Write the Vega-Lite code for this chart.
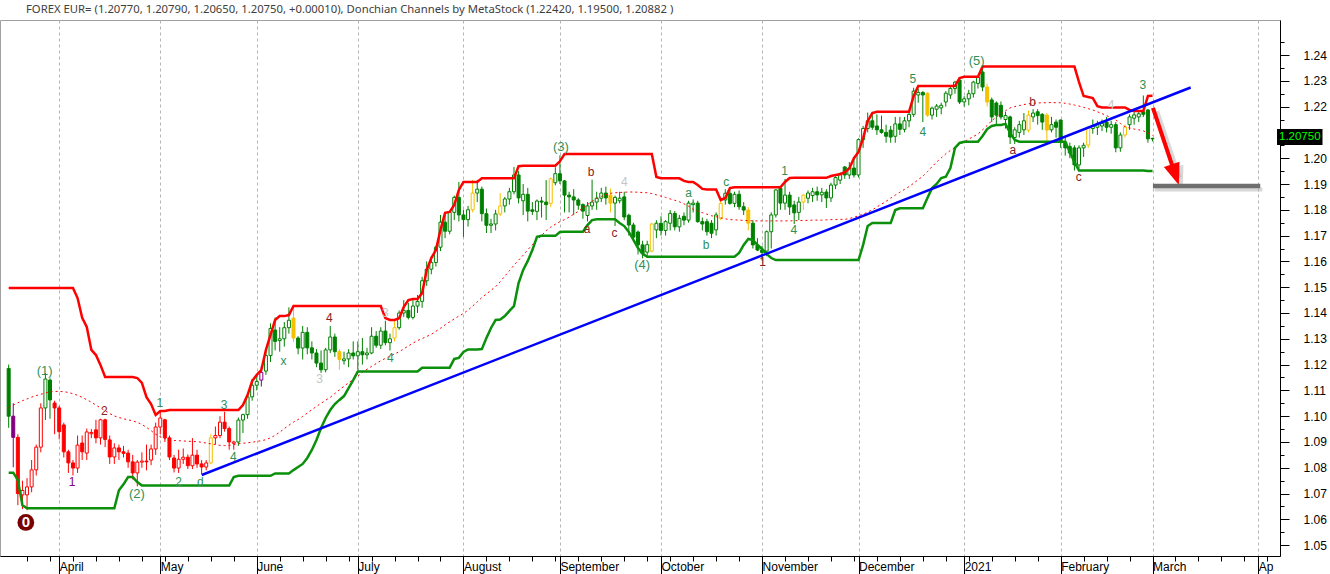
{
"$schema": "https://vega.github.io/schema/vega-lite/v6.json",
"width": 1280,
"height": 536,
"autosize": {"type": "none"},
"padding": {"left": 0, "top": 20, "right": 50, "bottom": 18},
"background": "white",
"title": {"text": "FOREX EUR= (1.20770, 1.20790, 1.20650, 1.20750, +0.00010), Donchian Channels by MetaStock (1.22420, 1.19500, 1.20882 )", "anchor": "start", "frame": "group", "dx": 26, "offset": 5, "font": "Noto Sans", "fontSize": 11.3, "fontWeight": "normal", "color": "#404040"},
"config": {"view": {"stroke": "#a0a0a0"}, "font": "Liberation Sans"},
"resolve": {"scale": {"color": "independent"}, "axis": {"x": "independent", "y": "independent"}},
"datasets": {
"candles": [
{"i":0,"o":1.1185,"h":1.12,"l":1.0955,"c":1.1,"k":"g","u":1.1497,"d":1.0781,"m":1.1033},
{"i":1,"o":1.1,"h":1.105,"l":1.0802,"c":1.0918,"k":"p","u":1.1497,"d":1.0781,"m":1.1043},
{"i":2,"o":1.0918,"h":1.093,"l":1.0655,"c":1.07,"k":"r","u":1.1497,"d":1.0752,"m":1.1052},
{"i":3,"o":1.0695,"h":1.075,"l":1.064,"c":1.0712,"k":"r","u":1.1497,"d":1.0655,"m":1.106},
{"i":4,"o":1.0695,"h":1.076,"l":1.0636,"c":1.0726,"k":"r","u":1.1497,"d":1.0643,"m":1.1067},
{"i":5,"o":1.0726,"h":1.083,"l":1.0705,"c":1.0792,"k":"r","u":1.1497,"d":1.0643,"m":1.1074},
{"i":6,"o":1.0792,"h":1.089,"l":1.077,"c":1.088,"k":"r","u":1.1497,"d":1.0643,"m":1.108},
{"i":7,"o":1.088,"h":1.105,"l":1.086,"c":1.1032,"k":"r","u":1.1497,"d":1.0643,"m":1.1085},
{"i":8,"o":1.1032,"h":1.1167,"l":1.0985,"c":1.1144,"k":"g","u":1.1497,"d":1.0643,"m":1.109},
{"i":9,"o":1.114,"h":1.1147,"l":1.099,"c":1.1063,"k":"g","u":1.1497,"d":1.0643,"m":1.1094},
{"i":10,"o":1.1051,"h":1.106,"l":1.093,"c":1.1032,"k":"r","u":1.1497,"d":1.0643,"m":1.1096},
{"i":11,"o":1.1032,"h":1.104,"l":1.091,"c":1.094,"k":"r","u":1.1497,"d":1.0643,"m":1.1096},
{"i":12,"o":1.0966,"h":1.0975,"l":1.084,"c":1.0862,"k":"r","u":1.1497,"d":1.0643,"m":1.1095},
{"i":13,"o":1.0862,"h":1.087,"l":1.078,"c":1.0819,"k":"r","u":1.1497,"d":1.0643,"m":1.1092},
{"i":14,"o":1.0819,"h":1.083,"l":1.077,"c":1.0799,"k":"r","u":1.1497,"d":1.0643,"m":1.1087},
{"i":15,"o":1.0799,"h":1.0925,"l":1.078,"c":1.0888,"k":"r","u":1.1458,"d":1.0643,"m":1.1081},
{"i":16,"o":1.0896,"h":1.0925,"l":1.083,"c":1.0862,"k":"r","u":1.1381,"d":1.0643,"m":1.1073},
{"i":17,"o":1.0857,"h":1.0952,"l":1.083,"c":1.0939,"k":"r","u":1.1346,"d":1.0643,"m":1.1064},
{"i":18,"o":1.0932,"h":1.095,"l":1.0915,"c":1.0937,"k":"r","u":1.1257,"d":1.0643,"m":1.1054},
{"i":19,"o":1.0947,"h":1.0986,"l":1.0895,"c":1.0916,"k":"r","u":1.1237,"d":1.0643,"m":1.1043},
{"i":20,"o":1.0916,"h":1.099,"l":1.089,"c":1.0986,"k":"r","u":1.1198,"d":1.0643,"m":1.1032},
{"i":21,"o":1.0986,"h":1.099,"l":1.088,"c":1.091,"k":"r","u":1.1152,"d":1.0643,"m":1.1021},
{"i":22,"o":1.0908,"h":1.0925,"l":1.0815,"c":1.0842,"k":"r","u":1.1152,"d":1.0643,"m":1.101},
{"i":23,"o":1.0842,"h":1.0895,"l":1.0815,"c":1.0877,"k":"r","u":1.1152,"d":1.0643,"m":1.1001},
{"i":24,"o":1.0877,"h":1.089,"l":1.083,"c":1.0862,"k":"r","u":1.1152,"d":1.0713,"m":1.0995},
{"i":25,"o":1.0862,"h":1.0885,"l":1.084,"c":1.0856,"k":"r","u":1.1152,"d":1.0736,"m":1.099},
{"i":26,"o":1.0857,"h":1.087,"l":1.08,"c":1.0823,"k":"r","u":1.1152,"d":1.0764,"m":1.0986},
{"i":27,"o":1.0823,"h":1.085,"l":1.0755,"c":1.078,"k":"r","u":1.1152,"d":1.0764,"m":1.0982},
{"i":28,"o":1.078,"h":1.083,"l":1.0728,"c":1.0822,"k":"r","u":1.1148,"d":1.0745,"m":1.0976},
{"i":29,"o":1.0822,"h":1.086,"l":1.08,"c":1.0826,"k":"r","u":1.1129,"d":1.0731,"m":1.0968},
{"i":30,"o":1.0826,"h":1.089,"l":1.079,"c":1.0823,"k":"r","u":1.1074,"d":1.0731,"m":1.0957},
{"i":31,"o":1.083,"h":1.089,"l":1.081,"c":1.0873,"k":"r","u":1.1047,"d":1.0731,"m":1.0944},
{"i":32,"o":1.0873,"h":1.0975,"l":1.085,"c":1.0958,"k":"r","u":1.1005,"d":1.0731,"m":1.093},
{"i":33,"o":1.0958,"h":1.102,"l":1.093,"c":1.0993,"k":"r","u":1.102,"d":1.0731,"m":1.092},
{"i":34,"o":1.0986,"h":1.099,"l":1.09,"c":1.0916,"k":"r","u":1.102,"d":1.0731,"m":1.0913},
{"i":35,"o":1.0916,"h":1.0925,"l":1.083,"c":1.0842,"k":"r","u":1.1024,"d":1.0731,"m":1.0909},
{"i":36,"o":1.0838,"h":1.085,"l":1.0782,"c":1.0799,"k":"r","u":1.1024,"d":1.0731,"m":1.0906},
{"i":37,"o":1.0799,"h":1.087,"l":1.078,"c":1.0833,"k":"r","u":1.1024,"d":1.0731,"m":1.0905},
{"i":38,"o":1.0833,"h":1.0875,"l":1.0815,"c":1.0841,"k":"r","u":1.1024,"d":1.0731,"m":1.0904},
{"i":39,"o":1.0841,"h":1.0852,"l":1.0795,"c":1.0808,"k":"r","u":1.1024,"d":1.0731,"m":1.0903},
{"i":40,"o":1.0808,"h":1.0915,"l":1.0795,"c":1.0849,"k":"r","u":1.1024,"d":1.0731,"m":1.0902},
{"i":41,"o":1.0849,"h":1.087,"l":1.08,"c":1.0815,"k":"r","u":1.1024,"d":1.0731,"m":1.0901},
{"i":42,"o":1.0815,"h":1.083,"l":1.0775,"c":1.0803,"k":"r","u":1.1024,"d":1.0731,"m":1.0899},
{"i":43,"o":1.0803,"h":1.083,"l":1.079,"c":1.0819,"k":"r","u":1.1024,"d":1.0731,"m":1.0896},
{"i":44,"o":1.0819,"h":1.093,"l":1.0815,"c":1.0916,"k":"y","u":1.1024,"d":1.0731,"m":1.0893},
{"i":45,"o":1.0916,"h":1.096,"l":1.089,"c":1.0925,"k":"r","u":1.1024,"d":1.0731,"m":1.089},
{"i":46,"o":1.0925,"h":1.1,"l":1.0915,"c":1.0977,"k":"r","u":1.1024,"d":1.0731,"m":1.0887},
{"i":47,"o":1.0977,"h":1.1017,"l":1.094,"c":1.0952,"k":"r","u":1.1024,"d":1.0731,"m":1.0886},
{"i":48,"o":1.0952,"h":1.096,"l":1.087,"c":1.09,"k":"r","u":1.1024,"d":1.0731,"m":1.0887},
{"i":49,"o":1.0895,"h":1.0905,"l":1.087,"c":1.09,"k":"r","u":1.1024,"d":1.0764,"m":1.089},
{"i":50,"o":1.09,"h":1.0995,"l":1.0885,"c":1.0985,"k":"g","u":1.1024,"d":1.0769,"m":1.0893},
{"i":51,"o":1.0985,"h":1.101,"l":1.0935,"c":1.1006,"k":"g","u":1.1043,"d":1.0769,"m":1.0895},
{"i":52,"o":1.1006,"h":1.109,"l":1.099,"c":1.1075,"k":"g","u":1.1082,"d":1.0769,"m":1.0897},
{"i":53,"o":1.1075,"h":1.1145,"l":1.106,"c":1.112,"k":"g","u":1.1136,"d":1.0769,"m":1.0899},
{"i":54,"o":1.112,"h":1.1155,"l":1.11,"c":1.1135,"k":"g","u":1.116,"d":1.0769,"m":1.0902},
{"i":55,"o":1.114,"h":1.1195,"l":1.1115,"c":1.117,"k":"p","u":1.1179,"d":1.0769,"m":1.0905},
{"i":56,"o":1.1175,"h":1.1257,"l":1.116,"c":1.1235,"k":"g","u":1.1257,"d":1.0769,"m":1.0909},
{"i":57,"o":1.1235,"h":1.136,"l":1.121,"c":1.134,"k":"g","u":1.1315,"d":1.0769,"m":1.0916},
{"i":58,"o":1.1334,"h":1.1383,"l":1.1255,"c":1.129,"k":"g","u":1.1373,"d":1.0778,"m":1.0926},
{"i":59,"o":1.1293,"h":1.1345,"l":1.125,"c":1.13,"k":"g","u":1.1388,"d":1.0778,"m":1.0938},
{"i":60,"o":1.13,"h":1.1365,"l":1.127,"c":1.1343,"k":"g","u":1.1388,"d":1.0778,"m":1.0952},
{"i":61,"o":1.1343,"h":1.1422,"l":1.132,"c":1.1372,"k":"g","u":1.1392,"d":1.0778,"m":1.0965},
{"i":62,"o":1.138,"h":1.1422,"l":1.1288,"c":1.1303,"k":"y","u":1.1427,"d":1.0791,"m":1.0977},
{"i":63,"o":1.1303,"h":1.131,"l":1.124,"c":1.1264,"k":"g","u":1.1427,"d":1.0803,"m":1.0987},
{"i":64,"o":1.1264,"h":1.135,"l":1.122,"c":1.1325,"k":"g","u":1.1427,"d":1.0815,"m":1.0999},
{"i":65,"o":1.1325,"h":1.1345,"l":1.124,"c":1.1265,"k":"g","u":1.1427,"d":1.0838,"m":1.1012},
{"i":66,"o":1.1265,"h":1.129,"l":1.122,"c":1.1245,"k":"g","u":1.1427,"d":1.0869,"m":1.1025},
{"i":67,"o":1.1245,"h":1.126,"l":1.119,"c":1.1206,"k":"g","u":1.1427,"d":1.0908,"m":1.1038},
{"i":68,"o":1.1206,"h":1.1255,"l":1.1168,"c":1.118,"k":"g","u":1.1427,"d":1.0954,"m":1.105},
{"i":69,"o":1.118,"h":1.1265,"l":1.117,"c":1.1257,"k":"g","u":1.1427,"d":1.0993,"m":1.1062},
{"i":70,"o":1.1257,"h":1.135,"l":1.1245,"c":1.1307,"k":"g","u":1.1427,"d":1.1024,"m":1.1073},
{"i":71,"o":1.1307,"h":1.132,"l":1.123,"c":1.125,"k":"g","u":1.1427,"d":1.1047,"m":1.1088},
{"i":72,"o":1.125,"h":1.126,"l":1.118,"c":1.122,"k":"y","u":1.1427,"d":1.1063,"m":1.1102},
{"i":73,"o":1.1215,"h":1.125,"l":1.12,"c":1.1222,"k":"g","u":1.1427,"d":1.1078,"m":1.1116},
{"i":74,"o":1.1222,"h":1.126,"l":1.119,"c":1.1245,"k":"g","u":1.1427,"d":1.1109,"m":1.113},
{"i":75,"o":1.1245,"h":1.129,"l":1.122,"c":1.1234,"k":"g","u":1.1427,"d":1.114,"m":1.1142},
{"i":76,"o":1.1234,"h":1.129,"l":1.118,"c":1.125,"k":"g","u":1.1427,"d":1.1173,"m":1.1155},
{"i":77,"o":1.125,"h":1.1303,"l":1.12,"c":1.1238,"k":"g","u":1.1427,"d":1.1173,"m":1.117},
{"i":78,"o":1.1238,"h":1.1265,"l":1.122,"c":1.1245,"k":"g","u":1.1427,"d":1.1173,"m":1.1182},
{"i":79,"o":1.1245,"h":1.1345,"l":1.124,"c":1.131,"k":"g","u":1.1427,"d":1.1173,"m":1.1193},
{"i":80,"o":1.131,"h":1.133,"l":1.1265,"c":1.1275,"k":"g","u":1.1427,"d":1.1173,"m":1.1204},
{"i":81,"o":1.1275,"h":1.1345,"l":1.126,"c":1.133,"k":"g","u":1.1427,"d":1.1173,"m":1.1215},
{"i":82,"o":1.133,"h":1.137,"l":1.1275,"c":1.1285,"k":"g","u":1.138,"d":1.1173,"m":1.1224},
{"i":83,"o":1.1285,"h":1.132,"l":1.1255,"c":1.13,"k":"g","u":1.1373,"d":1.1173,"m":1.1232},
{"i":84,"o":1.1303,"h":1.1375,"l":1.129,"c":1.1343,"k":"y","u":1.1373,"d":1.1173,"m":1.1241},
{"i":85,"o":1.1343,"h":1.141,"l":1.1335,"c":1.14,"k":"g","u":1.138,"d":1.1173,"m":1.125},
{"i":86,"o":1.14,"h":1.145,"l":1.1385,"c":1.141,"k":"g","u":1.1423,"d":1.1173,"m":1.1261},
{"i":87,"o":1.141,"h":1.144,"l":1.1375,"c":1.1383,"k":"g","u":1.145,"d":1.1173,"m":1.1272},
{"i":88,"o":1.1383,"h":1.145,"l":1.1375,"c":1.1427,"k":"g","u":1.1454,"d":1.1173,"m":1.1283},
{"i":89,"o":1.1427,"h":1.147,"l":1.14,"c":1.1445,"k":"g","u":1.1454,"d":1.1173,"m":1.1293},
{"i":90,"o":1.1445,"h":1.154,"l":1.142,"c":1.1525,"k":"g","u":1.1477,"d":1.1188,"m":1.1301},
{"i":91,"o":1.1525,"h":1.16,"l":1.1505,"c":1.157,"k":"g","u":1.1566,"d":1.1188,"m":1.1309},
{"i":92,"o":1.157,"h":1.162,"l":1.155,"c":1.1596,"k":"g","u":1.1613,"d":1.1188,"m":1.1317},
{"i":93,"o":1.1596,"h":1.166,"l":1.158,"c":1.1655,"k":"g","u":1.1644,"d":1.1188,"m":1.1329},
{"i":94,"o":1.1655,"h":1.178,"l":1.164,"c":1.1752,"k":"g","u":1.1722,"d":1.1188,"m":1.1341},
{"i":95,"o":1.1752,"h":1.178,"l":1.169,"c":1.1717,"k":"g","u":1.1788,"d":1.1188,"m":1.1354},
{"i":96,"o":1.1717,"h":1.179,"l":1.1705,"c":1.179,"k":"g","u":1.1792,"d":1.1188,"m":1.1366},
{"i":97,"o":1.179,"h":1.1855,"l":1.176,"c":1.1848,"k":"g","u":1.1819,"d":1.1222,"m":1.1377},
{"i":98,"o":1.1848,"h":1.1908,"l":1.1755,"c":1.178,"k":"g","u":1.1877,"d":1.1226,"m":1.1388},
{"i":99,"o":1.178,"h":1.18,"l":1.1695,"c":1.1762,"k":"g","u":1.1908,"d":1.1249,"m":1.1398},
{"i":100,"o":1.1762,"h":1.1815,"l":1.1735,"c":1.18,"k":"g","u":1.1908,"d":1.1259,"m":1.1411},
{"i":101,"o":1.18,"h":1.1916,"l":1.179,"c":1.1865,"k":"y","u":1.1908,"d":1.1259,"m":1.1427},
{"i":102,"o":1.1865,"h":1.1916,"l":1.183,"c":1.188,"k":"g","u":1.1908,"d":1.1259,"m":1.1443},
{"i":103,"o":1.188,"h":1.189,"l":1.1755,"c":1.1785,"k":"g","u":1.1922,"d":1.126,"m":1.146},
{"i":104,"o":1.1785,"h":1.1805,"l":1.171,"c":1.174,"k":"g","u":1.1922,"d":1.1303,"m":1.1474},
{"i":105,"o":1.174,"h":1.1765,"l":1.171,"c":1.1745,"k":"g","u":1.1922,"d":1.1342,"m":1.1488},
{"i":106,"o":1.1745,"h":1.18,"l":1.172,"c":1.1784,"k":"g","u":1.1922,"d":1.1373,"m":1.1502},
{"i":107,"o":1.1784,"h":1.1865,"l":1.1775,"c":1.1815,"k":"y","u":1.1922,"d":1.1375,"m":1.1521},
{"i":108,"o":1.1815,"h":1.185,"l":1.179,"c":1.1842,"k":"g","u":1.1922,"d":1.1388,"m":1.1543},
{"i":109,"o":1.1842,"h":1.1885,"l":1.182,"c":1.187,"k":"g","u":1.1922,"d":1.1408,"m":1.1564},
{"i":110,"o":1.187,"h":1.1966,"l":1.186,"c":1.1935,"k":"g","u":1.1922,"d":1.1427,"m":1.1585},
{"i":111,"o":1.1935,"h":1.195,"l":1.1825,"c":1.1846,"k":"g","u":1.1969,"d":1.1516,"m":1.1605},
{"i":112,"o":1.1835,"h":1.19,"l":1.178,"c":1.186,"k":"g","u":1.1971,"d":1.1567,"m":1.1624},
{"i":113,"o":1.186,"h":1.1885,"l":1.1755,"c":1.1795,"k":"g","u":1.1971,"d":1.1602,"m":1.1645},
{"i":114,"o":1.18,"h":1.183,"l":1.178,"c":1.1794,"k":"g","u":1.1971,"d":1.1644,"m":1.1665},
{"i":115,"o":1.1794,"h":1.184,"l":1.176,"c":1.1834,"k":"g","u":1.1971,"d":1.1695,"m":1.1683},
{"i":116,"o":1.1834,"h":1.185,"l":1.177,"c":1.183,"k":"g","u":1.1971,"d":1.1699,"m":1.17},
{"i":117,"o":1.183,"h":1.1915,"l":1.176,"c":1.182,"k":"g","u":1.1971,"d":1.1699,"m":1.1719},
{"i":118,"o":1.1825,"h":1.1925,"l":1.181,"c":1.192,"k":"y","u":1.1971,"d":1.1699,"m":1.1733},
{"i":119,"o":1.1905,"h":1.1965,"l":1.1895,"c":1.194,"k":"g","u":1.1971,"d":1.1699,"m":1.1744},
{"i":120,"o":1.194,"h":1.2011,"l":1.19,"c":1.1912,"k":"g","u":1.1988,"d":1.1714,"m":1.1754},
{"i":121,"o":1.1912,"h":1.1915,"l":1.179,"c":1.1857,"k":"g","u":1.2016,"d":1.1715,"m":1.1762},
{"i":122,"o":1.1857,"h":1.187,"l":1.179,"c":1.185,"k":"g","u":1.2016,"d":1.1715,"m":1.1772},
{"i":123,"o":1.185,"h":1.188,"l":1.178,"c":1.1838,"k":"g","u":1.2016,"d":1.1715,"m":1.1783},
{"i":124,"o":1.1838,"h":1.1845,"l":1.18,"c":1.1818,"k":"g","u":1.2016,"d":1.1715,"m":1.1794},
{"i":125,"o":1.182,"h":1.1825,"l":1.1765,"c":1.1795,"k":"g","u":1.2016,"d":1.1715,"m":1.1807},
{"i":126,"o":1.1778,"h":1.183,"l":1.1755,"c":1.1815,"k":"g","u":1.2016,"d":1.1741,"m":1.182},
{"i":127,"o":1.1815,"h":1.1917,"l":1.18,"c":1.183,"k":"g","u":1.2016,"d":1.176,"m":1.1833},
{"i":128,"o":1.183,"h":1.187,"l":1.18,"c":1.1845,"k":"g","u":1.2016,"d":1.1763,"m":1.1845},
{"i":129,"o":1.1845,"h":1.1885,"l":1.183,"c":1.1865,"k":"g","u":1.2016,"d":1.1763,"m":1.1852},
{"i":130,"o":1.1865,"h":1.189,"l":1.182,"c":1.1846,"k":"g","u":1.2016,"d":1.1763,"m":1.1858},
{"i":131,"o":1.1857,"h":1.1882,"l":1.179,"c":1.1826,"k":"y","u":1.2016,"d":1.1763,"m":1.1864},
{"i":132,"o":1.1826,"h":1.1855,"l":1.1737,"c":1.1848,"k":"g","u":1.2016,"d":1.1763,"m":1.1866},
{"i":133,"o":1.1835,"h":1.187,"l":1.1825,"c":1.1845,"k":"g","u":1.2016,"d":1.1749,"m":1.1867},
{"i":134,"o":1.185,"h":1.187,"l":1.176,"c":1.1772,"k":"g","u":1.2016,"d":1.1737,"m":1.1868},
{"i":135,"o":1.1779,"h":1.1785,"l":1.17,"c":1.1741,"k":"g","u":1.2016,"d":1.1714,"m":1.1869},
{"i":136,"o":1.1741,"h":1.175,"l":1.168,"c":1.1694,"k":"g","u":1.2016,"d":1.1683,"m":1.1869},
{"i":137,"o":1.1714,"h":1.172,"l":1.1627,"c":1.1664,"k":"g","u":1.2016,"d":1.1652,"m":1.1868},
{"i":138,"o":1.1664,"h":1.168,"l":1.1612,"c":1.163,"k":"g","u":1.2016,"d":1.1629,"m":1.1867},
{"i":139,"o":1.1636,"h":1.168,"l":1.162,"c":1.1665,"k":"g","u":1.2016,"d":1.1618,"m":1.1866},
{"i":140,"o":1.164,"h":1.175,"l":1.1635,"c":1.1745,"k":"y","u":1.2016,"d":1.1618,"m":1.1863},
{"i":141,"o":1.1722,"h":1.176,"l":1.169,"c":1.1748,"k":"g","u":1.1927,"d":1.1618,"m":1.1858},
{"i":142,"o":1.1748,"h":1.1775,"l":1.17,"c":1.172,"k":"g","u":1.1922,"d":1.1618,"m":1.1853},
{"i":143,"o":1.172,"h":1.176,"l":1.17,"c":1.1754,"k":"g","u":1.1922,"d":1.1618,"m":1.1848},
{"i":144,"o":1.1748,"h":1.1799,"l":1.172,"c":1.1786,"k":"g","u":1.1922,"d":1.1618,"m":1.1842},
{"i":145,"o":1.1786,"h":1.1795,"l":1.172,"c":1.1734,"k":"g","u":1.1922,"d":1.1618,"m":1.1837},
{"i":146,"o":1.1734,"h":1.178,"l":1.1715,"c":1.1767,"k":"g","u":1.1922,"d":1.1618,"m":1.1831},
{"i":147,"o":1.1775,"h":1.179,"l":1.174,"c":1.176,"k":"g","u":1.1912,"d":1.1618,"m":1.1823},
{"i":148,"o":1.176,"h":1.1835,"l":1.175,"c":1.1826,"k":"g","u":1.1908,"d":1.1618,"m":1.1814},
{"i":149,"o":1.182,"h":1.184,"l":1.179,"c":1.1826,"k":"g","u":1.1908,"d":1.1618,"m":1.1802},
{"i":150,"o":1.1826,"h":1.1835,"l":1.175,"c":1.1754,"k":"g","u":1.1896,"d":1.1618,"m":1.1795},
{"i":151,"o":1.1754,"h":1.177,"l":1.172,"c":1.1745,"k":"g","u":1.1881,"d":1.1618,"m":1.1789},
{"i":152,"o":1.1754,"h":1.1765,"l":1.17,"c":1.1715,"k":"g","u":1.1879,"d":1.1618,"m":1.1783},
{"i":153,"o":1.1748,"h":1.176,"l":1.169,"c":1.1709,"k":"g","u":1.1879,"d":1.1618,"m":1.1777},
{"i":154,"o":1.1722,"h":1.179,"l":1.17,"c":1.178,"k":"g","u":1.1879,"d":1.1618,"m":1.1773},
{"i":155,"o":1.1767,"h":1.184,"l":1.176,"c":1.1825,"k":"y","u":1.1838,"d":1.1618,"m":1.1769},
{"i":156,"o":1.1838,"h":1.188,"l":1.182,"c":1.1864,"k":"g","u":1.1846,"d":1.1618,"m":1.1765},
{"i":157,"o":1.1864,"h":1.188,"l":1.182,"c":1.1825,"k":"g","u":1.1884,"d":1.1618,"m":1.1762},
{"i":158,"o":1.1825,"h":1.187,"l":1.181,"c":1.186,"k":"g","u":1.1887,"d":1.1618,"m":1.1761},
{"i":159,"o":1.186,"h":1.1875,"l":1.18,"c":1.1812,"k":"g","u":1.1887,"d":1.1633,"m":1.176},
{"i":160,"o":1.1812,"h":1.183,"l":1.178,"c":1.1799,"k":"g","u":1.1887,"d":1.1664,"m":1.1759},
{"i":161,"o":1.1799,"h":1.181,"l":1.172,"c":1.1748,"k":"y","u":1.1887,"d":1.1687,"m":1.1758},
{"i":162,"o":1.1748,"h":1.176,"l":1.165,"c":1.1664,"k":"g","u":1.1887,"d":1.1683,"m":1.1757},
{"i":163,"o":1.1664,"h":1.169,"l":1.164,"c":1.1644,"k":"g","u":1.1887,"d":1.1664,"m":1.1757},
{"i":164,"o":1.1644,"h":1.166,"l":1.1603,"c":1.1635,"k":"g","u":1.1887,"d":1.1648,"m":1.1757},
{"i":165,"o":1.164,"h":1.172,"l":1.162,"c":1.1715,"k":"g","u":1.1887,"d":1.1629,"m":1.1757},
{"i":166,"o":1.1715,"h":1.179,"l":1.165,"c":1.178,"k":"g","u":1.1887,"d":1.1613,"m":1.1757},
{"i":167,"o":1.178,"h":1.188,"l":1.177,"c":1.1877,"k":"g","u":1.1887,"d":1.1605,"m":1.1757},
{"i":168,"o":1.1884,"h":1.189,"l":1.18,"c":1.1826,"k":"g","u":1.1887,"d":1.1605,"m":1.1757},
{"i":169,"o":1.1826,"h":1.192,"l":1.18,"c":1.1857,"k":"g","u":1.1908,"d":1.1605,"m":1.1757},
{"i":170,"o":1.1857,"h":1.187,"l":1.178,"c":1.1811,"k":"g","u":1.1923,"d":1.1605,"m":1.1757},
{"i":171,"o":1.1819,"h":1.1835,"l":1.1745,"c":1.1788,"k":"g","u":1.1924,"d":1.1605,"m":1.1758},
{"i":172,"o":1.179,"h":1.185,"l":1.176,"c":1.183,"k":"g","u":1.1924,"d":1.1605,"m":1.1758},
{"i":173,"o":1.183,"h":1.186,"l":1.18,"c":1.1857,"k":"y","u":1.1924,"d":1.1605,"m":1.1759},
{"i":174,"o":1.1845,"h":1.1875,"l":1.1825,"c":1.1865,"k":"g","u":1.1924,"d":1.1605,"m":1.1759},
{"i":175,"o":1.1855,"h":1.1885,"l":1.183,"c":1.187,"k":"g","u":1.1924,"d":1.1605,"m":1.176},
{"i":176,"o":1.187,"h":1.189,"l":1.1835,"c":1.1858,"k":"g","u":1.1924,"d":1.1605,"m":1.176},
{"i":177,"o":1.1858,"h":1.1885,"l":1.183,"c":1.1868,"k":"g","u":1.1924,"d":1.1605,"m":1.176},
{"i":178,"o":1.1869,"h":1.188,"l":1.1807,"c":1.1846,"k":"g","u":1.1924,"d":1.1605,"m":1.1761},
{"i":179,"o":1.1846,"h":1.1905,"l":1.183,"c":1.1896,"k":"g","u":1.1931,"d":1.1605,"m":1.1762},
{"i":180,"o":1.1896,"h":1.193,"l":1.188,"c":1.1925,"k":"g","u":1.1935,"d":1.1605,"m":1.1762},
{"i":181,"o":1.1915,"h":1.1945,"l":1.19,"c":1.194,"k":"g","u":1.1938,"d":1.1605,"m":1.1763},
{"i":182,"o":1.1966,"h":1.197,"l":1.192,"c":1.1935,"k":"g","u":1.1946,"d":1.1605,"m":1.1763},
{"i":183,"o":1.1935,"h":1.1985,"l":1.192,"c":1.1962,"k":"g","u":1.196,"d":1.1605,"m":1.1766},
{"i":184,"o":1.1962,"h":1.2005,"l":1.1925,"c":1.1935,"k":"g","u":1.2,"d":1.1605,"m":1.1771},
{"i":185,"o":1.1935,"h":1.2077,"l":1.1925,"c":1.2072,"k":"g","u":1.2024,"d":1.1605,"m":1.1777},
{"i":186,"o":1.2072,"h":1.2125,"l":1.204,"c":1.2115,"k":"g","u":1.2078,"d":1.1664,"m":1.1783},
{"i":187,"o":1.2115,"h":1.2177,"l":1.21,"c":1.2145,"k":"g","u":1.2144,"d":1.1737,"m":1.1791},
{"i":188,"o":1.2145,"h":1.218,"l":1.211,"c":1.212,"k":"g","u":1.2175,"d":1.1749,"m":1.18},
{"i":189,"o":1.2125,"h":1.217,"l":1.209,"c":1.211,"k":"g","u":1.218,"d":1.1749,"m":1.1811},
{"i":190,"o":1.211,"h":1.2165,"l":1.2095,"c":1.21,"k":"g","u":1.218,"d":1.1749,"m":1.1822},
{"i":191,"o":1.21,"h":1.213,"l":1.206,"c":1.2085,"k":"g","u":1.218,"d":1.1749,"m":1.1833},
{"i":192,"o":1.2109,"h":1.2125,"l":1.206,"c":1.2082,"k":"g","u":1.218,"d":1.1749,"m":1.1845},
{"i":193,"o":1.2085,"h":1.216,"l":1.206,"c":1.2133,"k":"g","u":1.218,"d":1.1799,"m":1.1857},
{"i":194,"o":1.2133,"h":1.216,"l":1.209,"c":1.2112,"k":"g","u":1.218,"d":1.1806,"m":1.1868},
{"i":195,"o":1.2112,"h":1.216,"l":1.21,"c":1.2145,"k":"g","u":1.218,"d":1.1806,"m":1.1879},
{"i":196,"o":1.2145,"h":1.218,"l":1.212,"c":1.217,"k":"g","u":1.218,"d":1.1806,"m":1.189},
{"i":197,"o":1.217,"h":1.2273,"l":1.216,"c":1.226,"k":"g","u":1.2241,"d":1.1806,"m":1.1903},
{"i":198,"o":1.2245,"h":1.227,"l":1.2215,"c":1.2255,"k":"g","u":1.228,"d":1.1806,"m":1.1917},
{"i":199,"o":1.2255,"h":1.226,"l":1.214,"c":1.2245,"k":"g","u":1.228,"d":1.1806,"m":1.193},
{"i":200,"o":1.2252,"h":1.2255,"l":1.216,"c":1.2167,"k":"y","u":1.228,"d":1.1846,"m":1.1948},
{"i":201,"o":1.2167,"h":1.22,"l":1.215,"c":1.2194,"k":"g","u":1.228,"d":1.1884,"m":1.1967},
{"i":202,"o":1.219,"h":1.221,"l":1.216,"c":1.2202,"k":"g","u":1.228,"d":1.19,"m":1.1985},
{"i":203,"o":1.2195,"h":1.2215,"l":1.217,"c":1.2205,"k":"g","u":1.228,"d":1.1923,"m":1.2001},
{"i":204,"o":1.2218,"h":1.226,"l":1.22,"c":1.2252,"k":"g","u":1.228,"d":1.1928,"m":1.2017},
{"i":205,"o":1.2245,"h":1.228,"l":1.223,"c":1.227,"k":"g","u":1.228,"d":1.1962,"m":1.203},
{"i":206,"o":1.227,"h":1.23,"l":1.225,"c":1.2295,"k":"g","u":1.228,"d":1.204,"m":1.2042},
{"i":207,"o":1.2303,"h":1.2311,"l":1.221,"c":1.2218,"k":"g","u":1.2311,"d":1.2059,"m":1.2053},
{"i":208,"o":1.2218,"h":1.224,"l":1.22,"c":1.223,"k":"g","u":1.2316,"d":1.2064,"m":1.2064},
{"i":209,"o":1.223,"h":1.2265,"l":1.2205,"c":1.225,"k":"g","u":1.2316,"d":1.2064,"m":1.2074},
{"i":210,"o":1.225,"h":1.23,"l":1.2235,"c":1.2295,"k":"g","u":1.2316,"d":1.2064,"m":1.2084},
{"i":211,"o":1.229,"h":1.232,"l":1.227,"c":1.2315,"k":"g","u":1.2316,"d":1.2064,"m":1.2094},
{"i":212,"o":1.2334,"h":1.2355,"l":1.226,"c":1.2276,"k":"g","u":1.2355,"d":1.2086,"m":1.211},
{"i":213,"o":1.2276,"h":1.229,"l":1.22,"c":1.2218,"k":"y","u":1.2355,"d":1.2113,"m":1.2127},
{"i":214,"o":1.2226,"h":1.2235,"l":1.214,"c":1.216,"k":"g","u":1.2355,"d":1.2125,"m":1.2145},
{"i":215,"o":1.2214,"h":1.222,"l":1.213,"c":1.2167,"k":"g","u":1.2355,"d":1.2129,"m":1.216},
{"i":216,"o":1.2205,"h":1.222,"l":1.215,"c":1.216,"k":"g","u":1.2355,"d":1.2129,"m":1.2172},
{"i":217,"o":1.215,"h":1.218,"l":1.2115,"c":1.2165,"k":"g","u":1.2355,"d":1.2133,"m":1.2184},
{"i":218,"o":1.216,"h":1.2165,"l":1.2055,"c":1.2082,"k":"g","u":1.2355,"d":1.2098,"m":1.2195},
{"i":219,"o":1.208,"h":1.212,"l":1.2055,"c":1.211,"k":"g","u":1.2355,"d":1.2071,"m":1.22},
{"i":220,"o":1.21,"h":1.2145,"l":1.208,"c":1.213,"k":"g","u":1.2355,"d":1.2064,"m":1.2204},
{"i":221,"o":1.211,"h":1.2175,"l":1.209,"c":1.2145,"k":"g","u":1.2355,"d":1.2064,"m":1.2208},
{"i":222,"o":1.2109,"h":1.2185,"l":1.21,"c":1.2167,"k":"y","u":1.2355,"d":1.2064,"m":1.2211},
{"i":223,"o":1.216,"h":1.219,"l":1.214,"c":1.2175,"k":"g","u":1.2355,"d":1.2064,"m":1.2213},
{"i":224,"o":1.218,"h":1.219,"l":1.213,"c":1.2165,"k":"g","u":1.2355,"d":1.2064,"m":1.2214},
{"i":225,"o":1.217,"h":1.2175,"l":1.211,"c":1.214,"k":"g","u":1.2355,"d":1.2064,"m":1.2215},
{"i":226,"o":1.2167,"h":1.2175,"l":1.206,"c":1.2109,"k":"y","u":1.2355,"d":1.2064,"m":1.2215},
{"i":227,"o":1.211,"h":1.216,"l":1.21,"c":1.213,"k":"g","u":1.2355,"d":1.2064,"m":1.2216},
{"i":228,"o":1.214,"h":1.215,"l":1.208,"c":1.212,"k":"g","u":1.2355,"d":1.2064,"m":1.2215},
{"i":229,"o":1.2148,"h":1.215,"l":1.204,"c":1.2063,"k":"g","u":1.2355,"d":1.2064,"m":1.2215},
{"i":230,"o":1.2063,"h":1.208,"l":1.201,"c":1.204,"k":"g","u":1.2355,"d":1.2064,"m":1.2213},
{"i":231,"o":1.2045,"h":1.206,"l":1.2,"c":1.202,"k":"g","u":1.2355,"d":1.2024,"m":1.221},
{"i":232,"o":1.204,"h":1.205,"l":1.1952,"c":1.1974,"k":"g","u":1.2355,"d":1.1985,"m":1.2206},
{"i":233,"o":1.1974,"h":1.205,"l":1.196,"c":1.204,"k":"g","u":1.2295,"d":1.1952,"m":1.2202},
{"i":234,"o":1.204,"h":1.206,"l":1.2005,"c":1.205,"k":"g","u":1.2241,"d":1.1952,"m":1.2197},
{"i":235,"o":1.2051,"h":1.2125,"l":1.204,"c":1.2118,"k":"y","u":1.2237,"d":1.1952,"m":1.2192},
{"i":236,"o":1.2115,"h":1.215,"l":1.2095,"c":1.2125,"k":"g","u":1.2233,"d":1.1952,"m":1.2187},
{"i":237,"o":1.212,"h":1.2145,"l":1.209,"c":1.213,"k":"g","u":1.2202,"d":1.1952,"m":1.218},
{"i":238,"o":1.2125,"h":1.215,"l":1.2105,"c":1.2135,"k":"g","u":1.2197,"d":1.1952,"m":1.2173},
{"i":239,"o":1.214,"h":1.216,"l":1.21,"c":1.212,"k":"g","u":1.2197,"d":1.1952,"m":1.2165},
{"i":240,"o":1.212,"h":1.2145,"l":1.2095,"c":1.213,"k":"g","u":1.2197,"d":1.1952,"m":1.2157},
{"i":241,"o":1.213,"h":1.214,"l":1.2023,"c":1.204,"k":"g","u":1.2197,"d":1.1952,"m":1.2148},
{"i":242,"o":1.204,"h":1.21,"l":1.2025,"c":1.209,"k":"g","u":1.2197,"d":1.1952,"m":1.2135},
{"i":243,"o":1.209,"h":1.213,"l":1.208,"c":1.2121,"k":"y","u":1.2197,"d":1.1952,"m":1.2122},
{"i":244,"o":1.213,"h":1.217,"l":1.211,"c":1.216,"k":"g","u":1.2187,"d":1.1952,"m":1.2117},
{"i":245,"o":1.2155,"h":1.218,"l":1.213,"c":1.2168,"k":"g","u":1.2183,"d":1.1952,"m":1.2113},
{"i":246,"o":1.216,"h":1.2185,"l":1.214,"c":1.2172,"k":"g","u":1.2183,"d":1.1952,"m":1.211},
{"i":247,"o":1.218,"h":1.2243,"l":1.216,"c":1.217,"k":"g","u":1.2183,"d":1.1952,"m":1.2106},
{"i":248,"o":1.2187,"h":1.219,"l":1.206,"c":1.2075,"k":"g","u":1.2241,"d":1.195,"m":1.2098},
{"i":249,"o":1.2077,"h":1.2079,"l":1.2065,"c":1.2075,"k":"g","u":1.2242,"d":1.195,"m":1.2088}
],
"trend": [{"i":42.03,"p":1.0772},{"i":257.3,"p":1.2274}],
"waves": [
{"i":7.84,"p":1.1176,"t":"(1)"},
{"i":27.9,"p":1.0698,"t":"(2)"},
{"i":120.2,"p":1.2043,"t":"(3)"},
{"i":137.9,"p":1.1586,"t":"(4)"},
{"i":210.7,"p":1.2378,"t":"(5)"}
],
"minor": [
{"i":13.8,"p":1.0744,"t":"1","g":"P"},
{"i":20.8,"p":1.1021,"t":"2","g":"B"},
{"i":32.9,"p":1.105,"t":"1","g":"G"},
{"i":37,"p":1.0743,"t":"2","g":"G"},
{"i":41.7,"p":1.0743,"t":"d","g":"G"},
{"i":46.9,"p":1.1045,"t":"3","g":"G"},
{"i":48.9,"p":1.0843,"t":"4","g":"G"},
{"i":59.8,"p":1.1215,"t":"x","g":"G"},
{"i":69.8,"p":1.1379,"t":"4","g":"B"},
{"i":67.7,"p":1.1143,"t":"3","g":"L"},
{"i":82,"p":1.1399,"t":"3","g":"L"},
{"i":83.1,"p":1.1224,"t":"4","g":"G"},
{"i":126.8,"p":1.1945,"t":"b","g":"B"},
{"i":134,"p":1.1907,"t":"4","g":"L"},
{"i":125.9,"p":1.1727,"t":"a","g":"B"},
{"i":131.9,"p":1.1711,"t":"c","g":"B"},
{"i":148,"p":1.1864,"t":"a","g":"G"},
{"i":151.8,"p":1.1664,"t":"b","g":"G"},
{"i":156.2,"p":1.1909,"t":"c","g":"G"},
{"i":168.9,"p":1.1952,"t":"1","g":"G"},
{"i":164.1,"p":1.1599,"t":"1","g":"B"},
{"i":170.9,"p":1.1722,"t":"4","g":"G"},
{"i":196.8,"p":1.2307,"t":"5","g":"G"},
{"i":199,"p":1.2103,"t":"4","g":"G"},
{"i":222.9,"p":1.2219,"t":"b","g":"B"},
{"i":218.6,"p":1.2032,"t":"a","g":"B"},
{"i":232.96,"p":1.1926,"t":"c","g":"B"},
{"i":240,"p":1.2206,"t":"4","g":"L"},
{"i":246.9,"p":1.2284,"t":"3","g":"G"}
],
"zero": [{"i":3.74,"p":1.0588,"t":"0"}],
"arrowShadow": [{"i":249.9,"p":1.2183},{"i":254.8,"p":1.1924}],
"arrow": [{"i":249.09,"p":1.2195},{"i":253.95,"p":1.1936}],
"head": [{"i":253.95,"p":1.1936}],
"headShadow": [{"i":254.8,"p":1.1924}],
"greyShadow": [{"i":249.5,"p":1.1879},{"i":272.9,"p":1.1879}],
"grey": [{"i":249.09,"p":1.1892},{"i":272.45,"p":1.1892}],
"last": [{"i0":276.1,"i1":286.0,"p0":1.2113,"p1":1.2051,"ic":281.05,"pc":1.2082,"t":"1.20750"}]
},
"layer": [
{
"data": {"name": "candles"},
"mark": {"type": "rule", "strokeWidth": 1},
"encoding": {
"x": {"field": "i", "type": "quantitative", "scale": {"domain": [-0.799, 275.66], "nice": false, "zero": false},
 "axis": {"orient": "bottom", "offset": 0, "values": [11,33,54,76,99,120,142,164,185,208,229,249,272],
  "labelExpr": "datum.value==11?'April':datum.value==33?'May':datum.value==54?'June':datum.value==76?'July':datum.value==99?'August':datum.value==120?'September':datum.value==142?'October':datum.value==164?'November':datum.value==185?'December':datum.value==208?'2021':datum.value==229?'February':datum.value==249?'March':'Ap'",
  "grid": true, "gridColor": "#b4b4b4", "gridDash": [3,3], "gridWidth": 1,
  "tickSize": 18, "tickColor": "#000000", "domainColor": "#000000",
  "labelAlign": "left", "labelBaseline": "top", "labelPadding": -13, "labelDx": 1,
  "labelFont": "Liberation Sans", "labelFontSize": 12, "labelColor": "#000000",
  "labelFlush": false, "labelOverlap": false, "title": null}},
"y": {"field": "l", "type": "quantitative", "scale": {"domain": [1.04581, 1.25357], "nice": false, "zero": false},
 "axis": {"orient": "right", "offset": 0, "values": [1.05,1.06,1.07,1.08,1.09,1.1,1.11,1.12,1.13,1.14,1.15,1.16,1.17,1.18,1.19,1.2,1.21,1.22,1.23,1.24],
  "labelExpr": "abs(datum.value-1.21)<0.001 ? '' : format(datum.value, '.2f')",
  "tickSize": 9, "tickColor": "#000000", "domainColor": "#000000", "grid": false,
  "labelPadding": 14, "labelAlign": "left", "labelBaseline": "middle",
  "labelFont": "Liberation Sans", "labelFontSize": 12, "labelColor": "#000000",
  "labelFlush": false, "labelOverlap": false, "title": null}},
"y2": {"field": "h"},
"color": {"field": "k", "type": "nominal", "scale": {"domain": ["g","r","y","p"], "range": ["#008000","#ff0000","#f5c000","#800080"]}, "legend": null}
}
},
{
"data": {"name": "candles"},
"mark": {"type": "bar", "width": 3, "strokeWidth": 1},
"encoding": {
"x": {"field": "i", "type": "quantitative",
 "axis": {"orient": "bottom", "offset": 0, "values": [4,9,14,19,24,29,34,39,44,49,54,59,64,69,74,79,84,89,94,99,104,109,114,119,124,129,134,139,144,149,154,159,164,169,174,179,184,189,194,199,204,209,214,219,224,229,234,239,244,249,254,259,264,269,274],
  "tickSize": 5, "tickColor": "#000000", "labels": false, "domain": false, "grid": false, "title": null}},
"y": {"field": "o", "type": "quantitative",
 "axis": {"orient": "right", "offset": 0, "values": [1.055,1.065,1.075,1.085,1.095,1.105,1.115,1.125,1.135,1.145,1.155,1.165,1.175,1.185,1.195,1.205,1.215,1.225,1.235,1.245],
  "tickSize": 4, "tickColor": "#000000", "labels": false, "domain": false, "grid": false, "title": null}},
"y2": {"field": "c"},
"stroke": {"field": "k", "type": "nominal", "scale": {"domain": ["g","r","y","p"], "range": ["#008000","#ff0000","#f5c000","#800080"]}, "legend": null},
"fill": {"condition": {"test": "datum.c > datum.o", "value": "#ffffff"}, "field": "k", "type": "nominal", "scale": {"domain": ["g","r","y","p"], "range": ["#008000","#ff0000","#f5c000","#800080"]}, "legend": null}
}
},
{
"data": {"name": "candles"},
"mark": {"type": "line", "color": "#ff0000", "strokeWidth": 1, "strokeDash": [2,3]},
"encoding": {"x": {"field": "i", "type": "quantitative", "axis": null}, "y": {"field": "m", "type": "quantitative", "axis": null}}
},
{
"data": {"name": "candles"},
"mark": {"type": "line", "color": "#ff0000", "strokeWidth": 2.5},
"encoding": {"x": {"field": "i", "type": "quantitative", "axis": null}, "y": {"field": "u", "type": "quantitative", "axis": null}}
},
{
"data": {"name": "candles"},
"mark": {"type": "line", "color": "#0a900a", "strokeWidth": 2.5},
"encoding": {"x": {"field": "i", "type": "quantitative", "axis": null}, "y": {"field": "d", "type": "quantitative", "axis": null}}
},
{
"data": {"name": "trend"},
"mark": {"type": "line", "color": "#0000ff", "strokeWidth": 2.5},
"encoding": {"x": {"field": "i", "type": "quantitative", "axis": null}, "y": {"field": "p", "type": "quantitative", "axis": null}}
},
{
"data": {"name": "minor"},
"mark": {"type": "text", "font": "Liberation Sans", "fontSize": 12, "align": "center", "baseline": "middle"},
"encoding": {"x": {"field": "i", "type": "quantitative", "axis": null}, "y": {"field": "p", "type": "quantitative", "axis": null}, "text": {"field": "t"},
 "color": {"field": "g", "type": "nominal", "scale": {"domain": ["G","P","B","L"], "range": ["#2f8f55","#800080","#8b2020","#c4c4c4"]}, "legend": null}}
},
{
"data": {"name": "waves"},
"mark": {"type": "text", "font": "Liberation Sans", "fontSize": 13, "align": "center", "baseline": "middle", "color": "#2f8f55"},
"encoding": {"x": {"field": "i", "type": "quantitative", "axis": null}, "y": {"field": "p", "type": "quantitative", "axis": null}, "text": {"field": "t"}}
},
{
"data": {"name": "zero"},
"mark": {"type": "point", "shape": "circle", "filled": true, "size": 280, "color": "#7a0000", "opacity": 1},
"encoding": {"x": {"field": "i", "type": "quantitative", "axis": null}, "y": {"field": "p", "type": "quantitative", "axis": null}}
},
{
"data": {"name": "zero"},
"mark": {"type": "text", "font": "Liberation Sans", "fontSize": 15, "fontWeight": "bold", "color": "#ffffff", "align": "center", "baseline": "middle"},
"encoding": {"x": {"field": "i", "type": "quantitative", "axis": null}, "y": {"field": "p", "type": "quantitative", "axis": null}, "text": {"field": "t"}}
},
{
"data": {"name": "arrowShadow"},
"mark": {"type": "line", "color": "#909090", "strokeWidth": 5, "opacity": 0.35},
"encoding": {"x": {"field": "i", "type": "quantitative", "axis": null}, "y": {"field": "p", "type": "quantitative", "axis": null}}
},
{
"data": {"name": "headShadow"},
"mark": {"type": "point", "shape": "M-0.75,-1L0.75,-1L0,1Z", "filled": true, "size": 484, "angle": 341, "color": "#909090", "opacity": 0.35},
"encoding": {"x": {"field": "i", "type": "quantitative", "axis": null}, "y": {"field": "p", "type": "quantitative", "axis": null}}
},
{
"data": {"name": "arrow"},
"mark": {"type": "line", "color": "#ff0000", "strokeWidth": 4},
"encoding": {"x": {"field": "i", "type": "quantitative", "axis": null}, "y": {"field": "p", "type": "quantitative", "axis": null}}
},
{
"data": {"name": "head"},
"mark": {"type": "point", "shape": "M-0.75,-1L0.75,-1L0,1Z", "filled": true, "size": 484, "angle": 341, "color": "#ff0000", "opacity": 1},
"encoding": {"x": {"field": "i", "type": "quantitative", "axis": null}, "y": {"field": "p", "type": "quantitative", "axis": null}}
},
{
"data": {"name": "greyShadow"},
"mark": {"type": "line", "color": "#b0b0b0", "strokeWidth": 4, "opacity": 0.5},
"encoding": {"x": {"field": "i", "type": "quantitative", "axis": null}, "y": {"field": "p", "type": "quantitative", "axis": null}}
},
{
"data": {"name": "grey"},
"mark": {"type": "line", "color": "#6e6e6e", "strokeWidth": 4.5},
"encoding": {"x": {"field": "i", "type": "quantitative", "axis": null}, "y": {"field": "p", "type": "quantitative", "axis": null}}
},
{
"data": {"name": "last"},
"mark": {"type": "rect", "color": "#000000"},
"encoding": {"x": {"field": "i0", "type": "quantitative", "axis": null}, "x2": {"field": "i1"}, "y": {"field": "p0", "type": "quantitative", "axis": null}, "y2": {"field": "p1"}}
},
{
"data": {"name": "last"},
"mark": {"type": "text", "font": "Liberation Sans", "fontSize": 11.5, "color": "#00ff00", "align": "center", "baseline": "middle"},
"encoding": {"x": {"field": "ic", "type": "quantitative", "axis": null}, "y": {"field": "pc", "type": "quantitative", "axis": null}, "text": {"field": "t"}}
}
]
}
